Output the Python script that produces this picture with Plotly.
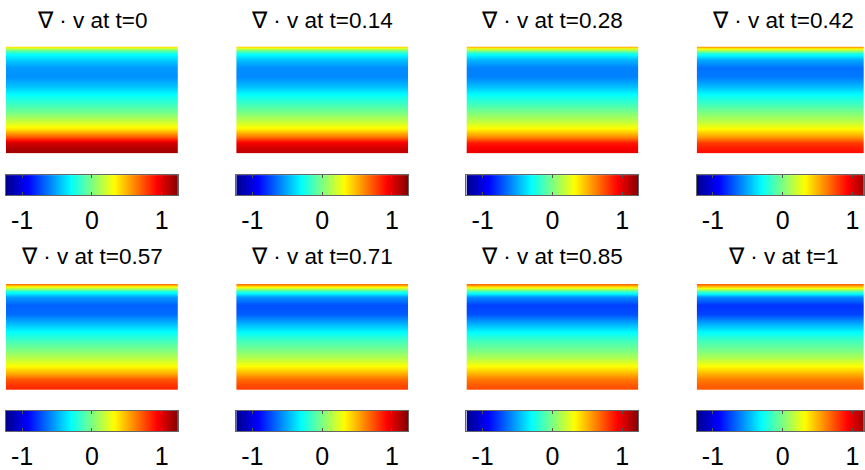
import plotly.graph_objects as go

# ---- data ----
times = ["0", "0.14", "0.28", "0.42", "0.57", "0.71", "0.85", "1"]
# vertical positions of sampled rows (0 = top edge, 1 = bottom edge)
row_pos = [0, 0.03, 0.07, 0.12, 0.2, 0.28, 0.37, 0.45, 0.53, 0.62, 0.7, 0.77, 0.84, 0.9, 0.95, 1.0]
div_t0   = [0.40, 0.00, -0.28, -0.42, -0.55, -0.57, -0.45, -0.30, -0.17, -0.02, 0.18, 0.35, 0.70, 1.02, 1.12, 1.15]
div_t014 = [0.45, 0.03, -0.28, -0.45, -0.58, -0.59, -0.46, -0.30, -0.16, -0.01, 0.17, 0.33, 0.64, 0.94, 1.04, 1.08]
div_t028 = [0.52, 0.10, -0.27, -0.48, -0.61, -0.61, -0.46, -0.30, -0.16, 0.00, 0.16, 0.32, 0.58, 0.86, 0.95, 0.98]
div_t042 = [0.58, 0.17, -0.25, -0.51, -0.65, -0.63, -0.47, -0.30, -0.16, 0.00, 0.15, 0.31, 0.54, 0.78, 0.87, 0.90]
div_t057 = [0.62, 0.26, -0.22, -0.55, -0.69, -0.66, -0.48, -0.30, -0.16, 0.00, 0.14, 0.31, 0.50, 0.71, 0.80, 0.84]
div_t071 = [0.64, 0.31, -0.18, -0.57, -0.73, -0.70, -0.50, -0.31, -0.16, -0.01, 0.13, 0.31, 0.49, 0.66, 0.75, 0.78]
div_t085 = [0.66, 0.35, -0.14, -0.59, -0.77, -0.73, -0.51, -0.31, -0.16, -0.02, 0.12, 0.31, 0.48, 0.63, 0.71, 0.75]
div_t1   = [0.68, 0.40, -0.10, -0.60, -0.80, -0.76, -0.52, -0.31, -0.16, -0.02, 0.12, 0.31, 0.48, 0.62, 0.69, 0.72]
profiles = [div_t0, div_t014, div_t028, div_t042, div_t057, div_t071, div_t085, div_t1]

clim = [-1.23, 1.23]
cbar_ticks = [-1, 0, 1]
cbar_ticktext = ["-1", "0", "1"]

jet = [[0.0, "rgb(0,0,143)"], [0.125, "rgb(0,0,255)"], [0.375, "rgb(0,255,255)"],
       [0.625, "rgb(255,255,0)"], [0.875, "rgb(255,0,0)"], [1.0, "rgb(128,0,0)"]]

W, H = 865, 470
lefts = [6, 236.5, 467, 697.5]
pw = 172
rows = [  # heatmap top/bottom, colorbar top/bottom, title y (pixels)
    dict(ht=47, hb=155, ct=177, cb=197, ty=21),
    dict(ht=287, hb=394, ct=415, cb=436, ty=259),
]

fig = go.Figure()
layout = {}
FONT = "Liberation Sans, Arial, Helvetica, sans-serif"

for i, (t, prof) in enumerate(zip(times, profiles)):
    r, c = divmod(i, 4)
    R = rows[r]
    x0 = lefts[c]
    x1 = min(x0 + pw, W)
    frac = (x1 - x0) / pw
    dom_x = [x0 / W, x1 / W]
    ah = 2 * i + 1
    ac = 2 * i + 2
    fig.add_trace(go.Heatmap(
        x=[0, 1], y=row_pos, z=[[v, v] for v in prof],
        zmin=clim[0], zmax=clim[1], colorscale=jet, zsmooth="best",
        showscale=False, hoverinfo="skip",
        xaxis=f"x{ah}", yaxis=f"y{ah}"))
    layout[f"xaxis{ah}"] = dict(domain=dom_x, range=[0, frac], visible=False, anchor=f"y{ah}")
    layout[f"yaxis{ah}"] = dict(domain=[1 - R["hb"] / H, 1 - R["ht"] / H], range=[1, 0],
                                visible=False, anchor=f"x{ah}")
    # colorbar drawn as a gradient heatmap on its own axis
    fig.add_trace(go.Heatmap(
        x=clim, y=[0, 1], z=[clim, clim],
        zmin=clim[0], zmax=clim[1], colorscale=jet, zsmooth="best",
        showscale=False, hoverinfo="skip",
        xaxis=f"x{ac}", yaxis=f"y{ac}"))
    layout[f"xaxis{ac}"] = dict(
        domain=dom_x, range=[clim[0], clim[0] + (clim[1] - clim[0]) * frac],
        tickvals=cbar_ticks, ticktext=cbar_ticktext, ticks="inside", ticklen=3,
        tickcolor="#555", mirror="allticks", showline=True, linecolor="#666", linewidth=1,
        showgrid=False, zeroline=False, tickfont=dict(size=25, color="black", family=FONT),
        ticklabelstandoff=3, anchor=f"y{ac}", fixedrange=True)
    layout[f"yaxis{ac}"] = dict(
        domain=[1 - R["cb"] / H, 1 - R["ct"] / H], range=[0, 1], showline=True, mirror=True,
        linecolor="#666", linewidth=1, showticklabels=False, ticks="", showgrid=False,
        zeroline=False, anchor=f"x{ac}", fixedrange=True)
    fig.add_annotation(
        text=f"\u2207 \u00b7 v at t={t}", xref="paper", yref="paper",
        x=(x0 + pw / 2) / W, y=1 - R["ty"] / H, xanchor="center", yanchor="middle",
        showarrow=False, font=dict(size=22.5, color="black", family=FONT))

fig.update_layout(
    width=W, height=H, margin=dict(l=0, r=0, t=0, b=0),
    paper_bgcolor="white", plot_bgcolor="white", showlegend=False, **layout)

fig.write_html("out.html", config={"displayModeBar": False},
               post_script="document.body.style.margin='0px';document.body.style.overflow='hidden';")
